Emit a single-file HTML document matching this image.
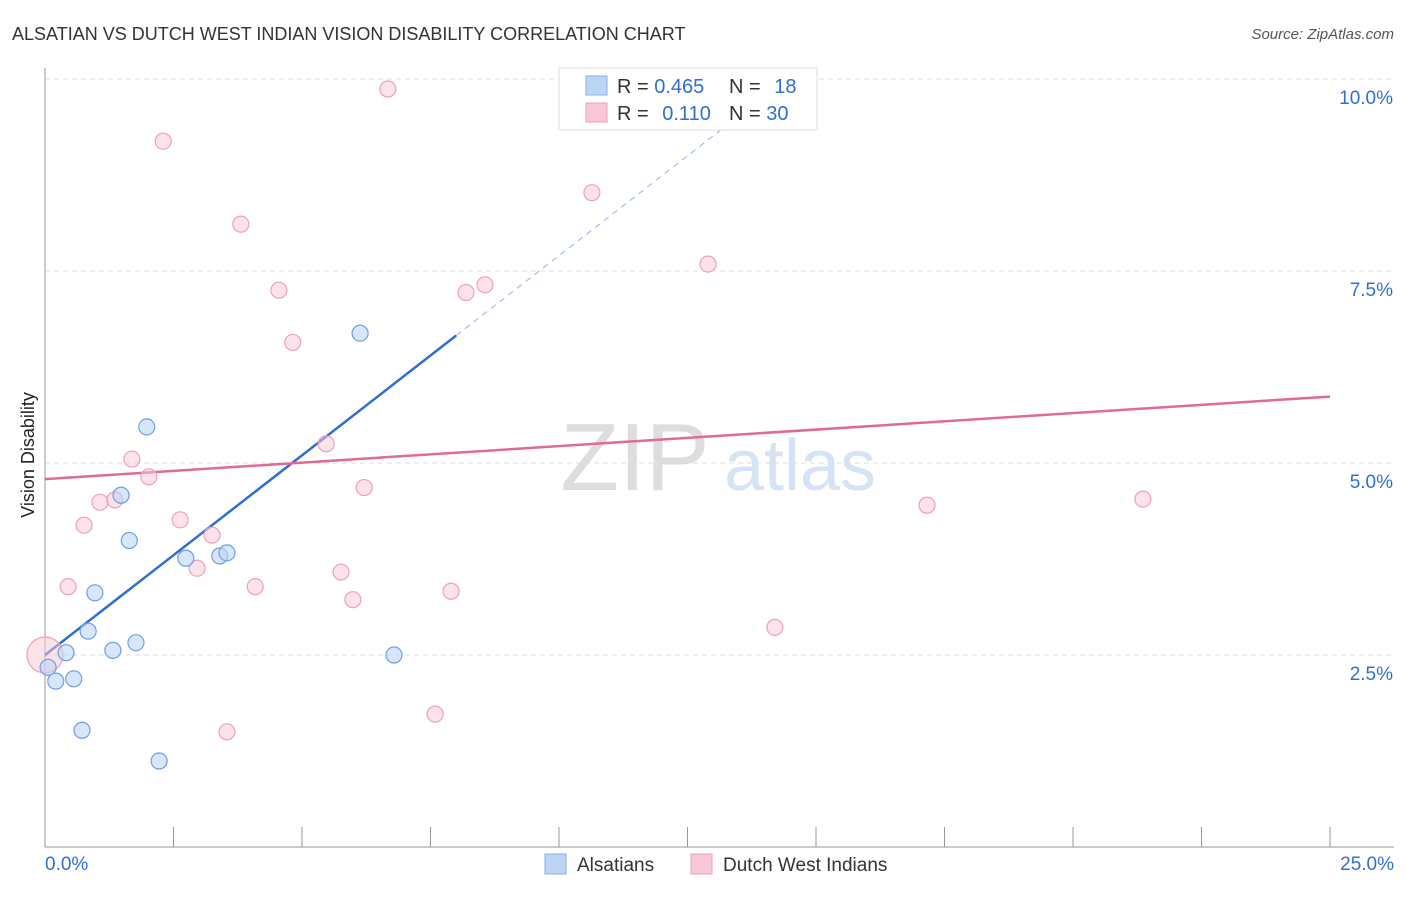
<!DOCTYPE html>
<html><head><meta charset="utf-8"><style>
body{margin:0;background:#fff;font-family:"Liberation Sans",sans-serif}
svg text{font-family:"Liberation Sans",sans-serif}
</style></head><body>
<svg id="chart" width="1406" height="892" xmlns="http://www.w3.org/2000/svg">
<text x="12" y="40" font-size="18" fill="#333">ALSATIAN VS DUTCH WEST INDIAN VISION DISABILITY CORRELATION CHART</text>
<text x="1394" y="39" font-size="15" fill="#555" font-style="italic" text-anchor="end">Source: ZipAtlas.com</text>
<text x="34" y="455" font-size="18" fill="#222" text-anchor="middle" transform="rotate(-90 34 455)">Vision Disability</text>
<g><text x="635" y="490" font-size="96" fill="#ddd" font-family="Liberation Serif" text-anchor="middle">ZIP</text><text x="800" y="490" font-size="72" fill="#d6e3f5" text-anchor="middle">atlas</text></g>
<g id="grid"></g><g id="axes"></g><g id="lines"></g><g id="pts"></g>
<g>
<rect x="559" y="68" width="258" height="62" fill="#fff" stroke="#ddd"/>
<rect x="586" y="76" width="21" height="19" fill="#bcd5f5" stroke="#8ab2e8"/>
<rect x="586" y="103" width="21" height="19" fill="#f9c8d6" stroke="#eea0b8"/>
<text x="617" y="93" font-size="20" fill="#333">R = <tspan fill="#2f6fd0">0.465</tspan></text>
<text x="729" y="93" font-size="20" fill="#333">N = <tspan fill="#2f6fd0" dx="8">18</tspan></text>
<text x="617" y="120" font-size="20" fill="#333">R = <tspan fill="#2f6fd0" dx="8">0.110</tspan></text>
<text x="729" y="120" font-size="20" fill="#333">N = <tspan fill="#2f6fd0">30</tspan></text>
</g>
<g>
<rect x="545" y="854" width="21" height="20" fill="#bcd5f5" stroke="#8ab2e8"/>
<text x="577" y="871" font-size="19" fill="#333">Alsatians</text>
<rect x="691" y="854" width="21" height="20" fill="#f9c8d6" stroke="#eea0b8"/>
<text x="723" y="871" font-size="19" fill="#333">Dutch West Indians</text>
</g>
</svg>
<script>
const xTicks=[0,2.5,5,7.5,10,12.5,15,17.5,20,22.5,25];
const yTicks=[2.5,5,7.5,10];
const yTickLabels=["2.5%","5.0%","7.5%","10.0%"];
const blueX=[0.21,0.41,0.56,0.72,0.84,0.97,1.32,1.48,1.64,1.77,1.98,2.22,2.74,3.40,3.54,6.13,6.79,0.06];
const blueY=[2.16,2.53,2.19,1.52,2.81,3.31,2.56,4.58,3.99,2.66,5.47,1.12,3.76,3.79,3.83,6.69,2.50,2.34];
const pinkX=[6.67,2.30,3.81,10.64,4.55,8.19,8.56,12.90,4.82,5.47,1.69,2.02,6.21,1.07,1.36,0.76,2.63,3.25,2.96,0.45,4.09,5.76,5.99,7.90,14.20,7.59,3.54,17.16,21.36,0.0];
const pinkY=[9.87,9.19,8.11,8.52,7.25,7.22,7.32,7.59,6.57,5.25,5.05,4.82,4.68,4.49,4.52,4.19,4.26,4.06,3.63,3.39,3.39,3.58,3.22,3.33,2.86,1.73,1.50,4.45,4.53,2.5];
const blueFit=[2.5,0.52];
const pinkFit=[4.79,0.043];
const X=v=>45+v*51.4, Y=v=>847-v*76.8;
const NS="http://www.w3.org/2000/svg";
function mk(p,t,a){const e=document.createElementNS(NS,t);for(const k in a)e.setAttribute(k,a[k]);p.appendChild(e);return e;}
const g=document.getElementById('grid'),ax=document.getElementById('axes'),ln=document.getElementById('lines'),pt=document.getElementById('pts');
yTicks.forEach((v,i)=>{const l=mk(g,'line',{x1:45,x2:1394,y1:Y(v),y2:Y(v),stroke:'#ddd','stroke-dasharray':'5,4'});


const t=mk(ax,'text',{x:1393,y:Y(v)+25,'font-size':19,fill:'#2f6fd0','text-anchor':'end'});t.textContent=yTickLabels[i];

});
const topGrid=mk(g,'line',{x1:45,x2:1394,y1:Y(10),y2:Y(10),stroke:'#ddd','stroke-dasharray':'5,4'});
mk(ax,'line',{x1:45,x2:45,y1:68,y2:847,stroke:'#999'});
mk(ax,'line',{x1:45,x2:1394,y1:847,y2:847,stroke:'#999'});
xTicks.forEach(v=>{const l=mk(ax,'line',{x1:X(v),x2:X(v),y1:827,y2:847,stroke:'#999'});

});
let t0=mk(ax,'text',{x:45,y:870,'font-size':19,fill:'#2f6fd0'});t0.textContent="0.0%";


let t1=mk(ax,'text',{x:1394,y:870,'font-size':19,fill:'#2f6fd0','text-anchor':'end'});t1.textContent="25.0%";


const bf=x=>blueFit[0]+blueFit[1]*x, pf=x=>pinkFit[0]+pinkFit[1]*x;
const xe=(10-blueFit[0])/blueFit[1];
let bd=mk(ln,'line',{x1:X(8),y1:Y(bf(8)),x2:X(xe),y2:Y(10),stroke:'#8ab2e8','stroke-width':1,'stroke-dasharray':'6,5'});


let bl=mk(ln,'line',{x1:X(0),y1:Y(bf(0)),x2:X(8),y2:Y(bf(8)),stroke:'#2f6fd0','stroke-width':2.5});


let pl=mk(ln,'line',{x1:X(0),y1:Y(pf(0)),x2:X(25),y2:Y(pf(25)),stroke:'#e06a93','stroke-width':2.5});


pinkX.forEach((x,i)=>{const big=i===pinkX.length-1;const c=mk(pt,'circle',{cx:X(x),cy:Y(pinkY[i]),r:big?18:8,fill:'rgba(249,200,214,0.5)',stroke:'#eea0b8','stroke-width':1.2});

});
blueX.forEach((x,i)=>{const c=mk(pt,'circle',{cx:X(x),cy:Y(blueY[i]),r:8,fill:'rgba(188,213,245,0.6)',stroke:'#6f9fe0','stroke-width':1.2});

});
</script>
</body></html>
